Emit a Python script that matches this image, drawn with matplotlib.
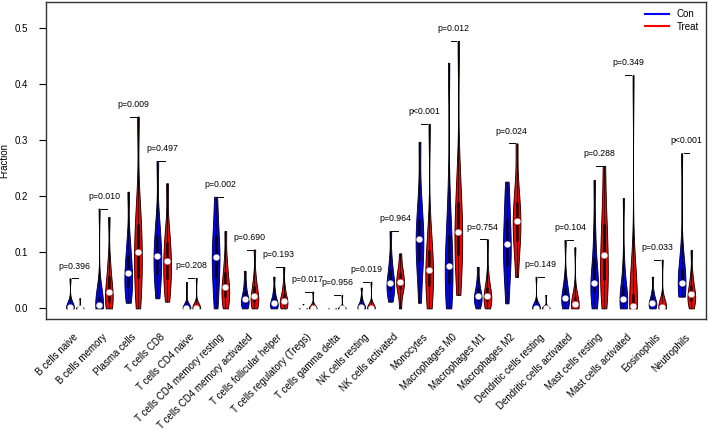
import numpy as np
import matplotlib.pyplot as plt

plt.rcParams['font.family'] = ['Liberation Sans', 'DejaVu Sans']

cell_types = ['B cells naive', 'B cells memory', 'Plasma cells', 'T cells CD8',
              'T cells CD4 naive', 'T cells CD4 memory resting',
              'T cells CD4 memory activated', 'T cells follicular helper',
              'T cells regulatory (Tregs)', 'T cells gamma delta',
              'NK cells resting', 'NK cells activated', 'Monocytes',
              'Macrophages M0', 'Macrophages M1', 'Macrophages M2',
              'Dendritic cells resting', 'Dendritic cells activated',
              'Mast cells resting', 'Mast cells activated', 'Eosinophils',
              'Neutrophils']

p_labels = ['p=0.396', 'p=0.010', 'p=0.009', 'p=0.497', 'p=0.208', 'p=0.002',
            'p=0.690', 'p=0.193', 'p=0.017', 'p=0.956', 'p=0.019', 'p=0.964',
            'p<0.001', 'p=0.012', 'p=0.754', 'p=0.024', 'p=0.149', 'p=0.104',
            'p=0.288', 'p=0.349', 'p=0.033', 'p<0.001']

# fractions per group, read as octiles (min, 12.5%, 25%, ... , max)
con_vals = [
    [0, 0, 0, 0, 0.002, 0.005, 0.008, 0.015, 0.0535],
    [0, 0, 0.001, 0.003, 0.006, 0.012, 0.02, 0.04, 0.178],
    [0.010, 0.025, 0.038, 0.05, 0.0635, 0.078, 0.095, 0.125, 0.208],
    [0.018, 0.045, 0.062, 0.08, 0.094, 0.11, 0.13, 0.16, 0.263],
    [0, 0, 0, 0, 0, 0.001, 0.003, 0.008, 0.047],
    [0, 0.03, 0.055, 0.075, 0.092, 0.11, 0.13, 0.16, 0.199],
    [0, 0.004, 0.008, 0.012, 0.016, 0.022, 0.03, 0.045, 0.067],
    [0, 0.002, 0.004, 0.006, 0.009, 0.014, 0.02, 0.032, 0.0565],
    [0, 0, 0, 0, 0, 0, 0, 0.001, 0.008],
    [0, 0, 0, 0, 0, 0, 0, 0.001, 0.004],
    [0, 0, 0, 0.001, 0.003, 0.006, 0.01, 0.018, 0.037],
    [0.012, 0.025, 0.032, 0.04, 0.046, 0.055, 0.068, 0.09, 0.138],
    [0.01, 0.06, 0.085, 0.105, 0.123, 0.14, 0.16, 0.2, 0.297],
    [0, 0.025, 0.045, 0.06, 0.0755, 0.1, 0.13, 0.19, 0.438],
    [0, 0.008, 0.013, 0.018, 0.022, 0.028, 0.036, 0.05, 0.074],
    [0.009, 0.05, 0.075, 0.095, 0.115, 0.135, 0.16, 0.19, 0.226],
    [0, 0, 0, 0, 0, 0.001, 0.003, 0.008, 0.0565],
    [0, 0.005, 0.01, 0.015, 0.019, 0.026, 0.036, 0.055, 0.122],
    [0, 0.015, 0.03, 0.04, 0.046, 0.065, 0.09, 0.14, 0.229],
    [0, 0.004, 0.008, 0.012, 0.016, 0.025, 0.04, 0.08, 0.197],
    [0, 0.002, 0.005, 0.008, 0.01, 0.014, 0.02, 0.03, 0.0565],
    [0.021, 0.03, 0.036, 0.041, 0.046, 0.055, 0.07, 0.1, 0.2765],
]

treat_vals = [
    [0, 0, 0, 0, 0, 0, 0.001, 0.003, 0.018],
    [0, 0.005, 0.012, 0.02, 0.03, 0.042, 0.058, 0.085, 0.163],
    [0, 0.03, 0.055, 0.08, 0.101, 0.125, 0.15, 0.19, 0.342],
    [0.012, 0.035, 0.052, 0.068, 0.084, 0.10, 0.118, 0.145, 0.223],
    [0, 0, 0, 0, 0, 0.001, 0.003, 0.008, 0.0546],
    [0, 0.01, 0.02, 0.03, 0.0386, 0.05, 0.065, 0.09, 0.138],
    [0, 0.006, 0.011, 0.016, 0.022, 0.03, 0.04, 0.058, 0.105],
    [0, 0.003, 0.006, 0.01, 0.0136, 0.019, 0.026, 0.04, 0.074],
    [0, 0, 0, 0, 0, 0.001, 0.003, 0.008, 0.030],
    [0, 0, 0, 0, 0, 0, 0, 0.002, 0.0237],
    [0, 0, 0, 0, 0, 0.001, 0.003, 0.008, 0.0475],
    [0.0, 0.025, 0.035, 0.042, 0.0475, 0.055, 0.063, 0.075, 0.098],
    [0, 0.02, 0.04, 0.055, 0.068, 0.085, 0.105, 0.14, 0.329],
    [0.024, 0.07, 0.095, 0.115, 0.136, 0.16, 0.19, 0.24, 0.477],
    [0, 0.008, 0.013, 0.018, 0.022, 0.028, 0.038, 0.058, 0.123],
    [0.056, 0.1, 0.12, 0.14, 0.155, 0.17, 0.19, 0.22, 0.294],
    [0, 0, 0, 0, 0, 0, 0.001, 0.004, 0.024],
    [0, 0, 0.002, 0.004, 0.007, 0.012, 0.02, 0.035, 0.109],
    [0, 0.025, 0.05, 0.072, 0.0945, 0.12, 0.15, 0.19, 0.254],
    [0, 0, 0.001, 0.002, 0.004, 0.01, 0.025, 0.07, 0.416],
    [0, 0, 0, 0.001, 0.002, 0.004, 0.008, 0.018, 0.087],
    [0, 0.008, 0.014, 0.02, 0.025, 0.032, 0.042, 0.06, 0.104],
]

n = len(cell_types)
pos_con = [3 * i for i in range(n)]
pos_treat = [3 * i + 1 for i in range(n)]

fig = plt.figure(figsize=(7.08, 4.30), dpi=100)
ax = fig.add_axes([0.065, 0.258, 0.932, 0.737])


def draw_violins(data, positions, color):
    parts = ax.violinplot(data, positions=positions, widths=0.8,
                          showextrema=False, bw_method=0.45)
    for body in parts['bodies']:
        body.set_facecolor(color)
        body.set_edgecolor('black')
        body.set_linewidth(0.6)
        body.set_alpha(1)
    for x, d in zip(positions, data):
        q1, med, q3 = np.percentile(d, [25, 50, 75])
        ax.vlines(x, min(d), max(d), color='black', lw=0.7, zorder=3)
        ax.vlines(x, q1, q3, color='black', lw=1.8, zorder=3)
        ax.plot(x, med, 'o', color='white', ms=3.5, mec='white', zorder=4)


draw_violins(con_vals, pos_con, 'blue')
draw_violins(treat_vals, pos_treat, 'red')

# p-value brackets
for i in range(n):
    mx = max(max(con_vals[i]), max(treat_vals[i]))
    ax.plot([3 * i + 0.2, 3 * i + 0.8], [mx, mx], color='black', lw=0.7)
    ax.text(3 * i + 0.5, mx + 0.022, p_labels[i], ha='center', va='center',
            fontsize=6.3)

# rotated cell labels
for i, name in enumerate(cell_types):
    ax.text(3 * i + 0.3, -0.041, name, transform=ax.get_xaxis_transform(),
            rotation=45, rotation_mode='anchor', ha='right', va='top',
            fontsize=7)

ax.set_xlim(-2.47, 65.5)
ax.set_ylim(-0.019, 0.546)
ax.set_xticks([])
ax.set_yticks([0, 0.1, 0.2, 0.3, 0.4, 0.5])
ax.set_yticklabels(['0.0', '0.1', '0.2', '0.3', '0.4', '0.5'])
ax.tick_params(axis='y', length=5, pad=8, labelsize=7)
ax.set_ylabel('Fraction', fontsize=7, labelpad=4)
for s in ax.spines.values():
    s.set_linewidth(1)
    s.set_color('#333333')

ax.plot([], [], color='blue', lw=1.5, label='Con')
ax.plot([], [], color='red', lw=1.5, label='Treat')
ax.legend(loc='upper right', frameon=False, fontsize=7, handlelength=2.5,
          labelspacing=0.3, borderaxespad=0.3)

fig.savefig('out.png', dpi=100)
